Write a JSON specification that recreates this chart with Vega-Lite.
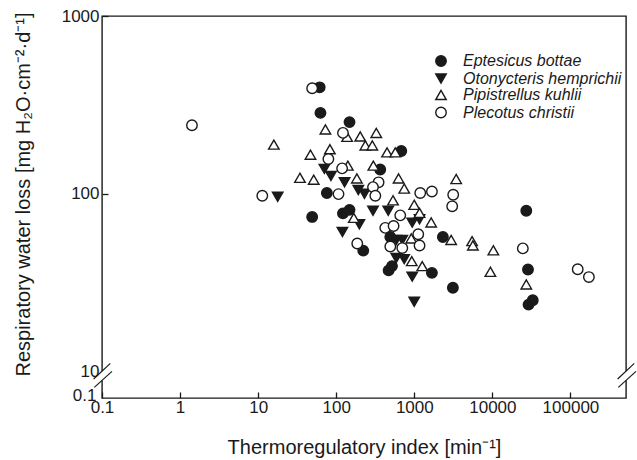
{
  "$schema": "https://vega.github.io/schema/vega-lite/v6.json",
  "width": 524,
  "height": 382,
  "autosize": {"type": "none"},
  "padding": {"left": 102, "top": 16, "right": 11, "bottom": 62},
  "background": "white",
  "config": {
    "font": "Liberation Sans",
    "view": {"stroke": "#1a1a1a", "strokeWidth": 1.4},
    "axis": {
      "grid": false,
      "domain": false,
      "tickColor": "#1a1a1a",
      "tickWidth": 1.3,
      "tickSize": -6,
      "labelColor": "#1a1a1a",
      "titleColor": "#1a1a1a",
      "labelFont": "Liberation Sans",
      "titleFont": "Liberation Sans",
      "labelFontSize": 17,
      "titleFontSize": 20,
      "titleFontWeight": "normal",
      "zindex": 0
    },
    "legend": {
      "title": null, "orient": "none", "legendX": 331, "legendY": 37,
      "labelFontStyle": "italic", "labelFontSize": 16, "labelColor": "#1a1a1a",
      "symbolSize": 110, "symbolStrokeWidth": 1.4,
      "labelOffset": 14, "rowPadding": 0.5, "padding": 0
    }
  },
  "layer": [
    {
      "data": {
        "values": [
          {"species": "Eptesicus bottae", "ti": 61.4, "rwl": 397},
          {"species": "Eptesicus bottae", "ti": 62.8, "rwl": 285},
          {"species": "Eptesicus bottae", "ti": 148, "rwl": 253},
          {"species": "Eptesicus bottae", "ti": 681, "rwl": 174},
          {"species": "Eptesicus bottae", "ti": 366, "rwl": 137},
          {"species": "Eptesicus bottae", "ti": 75.9, "rwl": 101},
          {"species": "Eptesicus bottae", "ti": 49.2, "rwl": 74.1},
          {"species": "Eptesicus bottae", "ti": 122, "rwl": 77.6},
          {"species": "Eptesicus bottae", "ti": 148, "rwl": 81.2},
          {"species": "Eptesicus bottae", "ti": 27200, "rwl": 80.2},
          {"species": "Eptesicus bottae", "ti": 222, "rwl": 47.9},
          {"species": "Eptesicus bottae", "ti": 493, "rwl": 57.1},
          {"species": "Eptesicus bottae", "ti": 2325, "rwl": 57.1},
          {"species": "Eptesicus bottae", "ti": 469, "rwl": 37.1},
          {"species": "Eptesicus bottae", "ti": 518, "rwl": 39.2},
          {"species": "Eptesicus bottae", "ti": 1682, "rwl": 35.9},
          {"species": "Eptesicus bottae", "ti": 3122, "rwl": 29.6},
          {"species": "Eptesicus bottae", "ti": 28600, "rwl": 37.5},
          {"species": "Eptesicus bottae", "ti": 29070, "rwl": 23.8},
          {"species": "Eptesicus bottae", "ti": 32910, "rwl": 25.2},
          {"species": "Otonycteris hemprichii", "ti": 17.8, "rwl": 96.2},
          {"species": "Otonycteris hemprichii", "ti": 70.6, "rwl": 138},
          {"species": "Otonycteris hemprichii", "ti": 85.5, "rwl": 126},
          {"species": "Otonycteris hemprichii", "ti": 128, "rwl": 116},
          {"species": "Otonycteris hemprichii", "ti": 192, "rwl": 105},
          {"species": "Otonycteris hemprichii", "ti": 230, "rwl": 100},
          {"species": "Otonycteris hemprichii", "ti": 198, "rwl": 67.3},
          {"species": "Otonycteris hemprichii", "ti": 120, "rwl": 61.0},
          {"species": "Otonycteris hemprichii", "ti": 296, "rwl": 80.2},
          {"species": "Otonycteris hemprichii", "ti": 464, "rwl": 80.2},
          {"species": "Otonycteris hemprichii", "ti": 941, "rwl": 68.8},
          {"species": "Otonycteris hemprichii", "ti": 1168, "rwl": 71.9},
          {"species": "Otonycteris hemprichii", "ti": 588, "rwl": 43.5},
          {"species": "Otonycteris hemprichii", "ti": 743, "rwl": 42.9},
          {"species": "Otonycteris hemprichii", "ti": 941, "rwl": 34.2},
          {"species": "Otonycteris hemprichii", "ti": 998, "rwl": 24.7},
          {"species": "Otonycteris hemprichii", "ti": 588, "rwl": 55.0},
          {"species": "Otonycteris hemprichii", "ti": 702, "rwl": 55.0},
          {"species": "Pipistrellus kuhlii", "ti": 15.9, "rwl": 189},
          {"species": "Pipistrellus kuhlii", "ti": 46.8, "rwl": 166},
          {"species": "Pipistrellus kuhlii", "ti": 72.7, "rwl": 230},
          {"species": "Pipistrellus kuhlii", "ti": 83.0, "rwl": 178},
          {"species": "Pipistrellus kuhlii", "ti": 138, "rwl": 209},
          {"species": "Pipistrellus kuhlii", "ti": 203, "rwl": 210},
          {"species": "Pipistrellus kuhlii", "ti": 236, "rwl": 187},
          {"species": "Pipistrellus kuhlii", "ti": 290, "rwl": 187},
          {"species": "Pipistrellus kuhlii", "ti": 326, "rwl": 220},
          {"species": "Pipistrellus kuhlii", "ti": 448, "rwl": 171},
          {"species": "Pipistrellus kuhlii", "ti": 571, "rwl": 171},
          {"species": "Pipistrellus kuhlii", "ti": 34.3, "rwl": 123},
          {"species": "Pipistrellus kuhlii", "ti": 51.5, "rwl": 120},
          {"species": "Pipistrellus kuhlii", "ti": 141, "rwl": 144},
          {"species": "Pipistrellus kuhlii", "ti": 184, "rwl": 122},
          {"species": "Pipistrellus kuhlii", "ti": 299, "rwl": 144},
          {"species": "Pipistrellus kuhlii", "ti": 168, "rwl": 73.2},
          {"species": "Pipistrellus kuhlii", "ti": 629, "rwl": 122},
          {"species": "Pipistrellus kuhlii", "ti": 743, "rwl": 107},
          {"species": "Pipistrellus kuhlii", "ti": 3439, "rwl": 121},
          {"species": "Pipistrellus kuhlii", "ti": 534, "rwl": 91.9},
          {"species": "Pipistrellus kuhlii", "ti": 998, "rwl": 86.7},
          {"species": "Pipistrellus kuhlii", "ti": 1168, "rwl": 78.1},
          {"species": "Pipistrellus kuhlii", "ti": 1646, "rwl": 69.0},
          {"species": "Pipistrellus kuhlii", "ti": 914, "rwl": 56.1},
          {"species": "Pipistrellus kuhlii", "ti": 2967, "rwl": 55.0},
          {"species": "Pipistrellus kuhlii", "ti": 5500, "rwl": 54.2},
          {"species": "Pipistrellus kuhlii", "ti": 5630, "rwl": 51.2},
          {"species": "Pipistrellus kuhlii", "ti": 10290, "rwl": 48.1},
          {"species": "Pipistrellus kuhlii", "ti": 928, "rwl": 41.8},
          {"species": "Pipistrellus kuhlii", "ti": 1264, "rwl": 39.2},
          {"species": "Pipistrellus kuhlii", "ti": 9430, "rwl": 36.4},
          {"species": "Pipistrellus kuhlii", "ti": 27200, "rwl": 30.9},
          {"species": "Plecotus christii", "ti": 1.42, "rwl": 243},
          {"species": "Plecotus christii", "ti": 11.3, "rwl": 97.5},
          {"species": "Plecotus christii", "ti": 49.2, "rwl": 392},
          {"species": "Plecotus christii", "ti": 122, "rwl": 220},
          {"species": "Plecotus christii", "ti": 79.4, "rwl": 157},
          {"species": "Plecotus christii", "ti": 119, "rwl": 139},
          {"species": "Plecotus christii", "ti": 107, "rwl": 99.6},
          {"species": "Plecotus christii", "ti": 186, "rwl": 52.5},
          {"species": "Plecotus christii", "ti": 349, "rwl": 116},
          {"species": "Plecotus christii", "ti": 296, "rwl": 109},
          {"species": "Plecotus christii", "ti": 317, "rwl": 97.5},
          {"species": "Plecotus christii", "ti": 1192, "rwl": 101},
          {"species": "Plecotus christii", "ti": 1682, "rwl": 103},
          {"species": "Plecotus christii", "ti": 3151, "rwl": 98.7},
          {"species": "Plecotus christii", "ti": 3058, "rwl": 85.0},
          {"species": "Plecotus christii", "ti": 661, "rwl": 75.6},
          {"species": "Plecotus christii", "ti": 425, "rwl": 64.3},
          {"species": "Plecotus christii", "ti": 543, "rwl": 65.9},
          {"species": "Plecotus christii", "ti": 1124, "rwl": 59.2},
          {"species": "Plecotus christii", "ti": 493, "rwl": 50.5},
          {"species": "Plecotus christii", "ti": 702, "rwl": 49.5},
          {"species": "Plecotus christii", "ti": 1168, "rwl": 51.2},
          {"species": "Plecotus christii", "ti": 24560, "rwl": 49.3},
          {"species": "Plecotus christii", "ti": 124000, "rwl": 37.6},
          {"species": "Plecotus christii", "ti": 172400, "rwl": 34.0}
        ]
      },
      "mark": {"type": "point", "strokeWidth": 1.4, "size": 110, "opacity": 1},
      "encoding": {
        "x": {
          "field": "ti",
          "type": "quantitative",
          "title": "Thermoregulatory index [min⁻¹]",
          "scale": {"type": "log", "domain": [0.1, 515000], "nice": false},
          "axis": {
            "values": [0.1, 1, 10, 100, 1000, 10000, 100000],
            "labelExpr": "datum.value < 1 ? '0.1' : format(datum.value, 'd')",
            "labelPadding": 7,
            "labelFlush": false,
            "labelOverlap": false,
            "titleY": 55,
            "titleBaseline": "alphabetic"
          }
        },
        "y": {
          "field": "rwl",
          "type": "quantitative",
          "title": "Respiratory water loss [mg H₂O·cm⁻²·d⁻¹]",
          "scale": {"type": "log", "domain": [7.1, 1000], "nice": false},
          "axis": {
            "values": [7.1, 10, 100, 1000],
            "labelExpr": "datum.value < 9 ? '0.1' : format(datum.value, 'd')",
            "labelPadding": {"condition": {"test": "datum.value < 9", "value": 12}, "value": 9},
            "labelOffset": {"condition": {"test": "datum.value < 9", "value": -3}, "value": 0},
            "tickOpacity": {"condition": {"test": "datum.value < 50", "value": 0}, "value": 1},
            "labelFlush": false,
            "labelOverlap": false,
            "titleX": -73,
            "titleY": 178,
            "titleAngle": 270,
            "titleAlign": "center",
            "titleBaseline": "alphabetic"
          }
        },
        "shape": {
          "field": "species",
          "type": "nominal",
          "scale": {
            "domain": ["Eptesicus bottae", "Otonycteris hemprichii", "Pipistrellus kuhlii", "Plecotus christii"],
            "range": ["circle", "triangle-down", "triangle-up", "circle"]
          }
        },
        "fill": {
          "field": "species",
          "type": "nominal",
          "scale": {
            "domain": ["Eptesicus bottae", "Otonycteris hemprichii", "Pipistrellus kuhlii", "Plecotus christii"],
            "range": ["#1a1a1a", "#1a1a1a", "white", "white"]
          }
        },
        "stroke": {
          "field": "species",
          "type": "nominal",
          "scale": {
            "domain": ["Eptesicus bottae", "Otonycteris hemprichii", "Pipistrellus kuhlii", "Plecotus christii"],
            "range": ["#1a1a1a", "#1a1a1a", "#1a1a1a", "#1a1a1a"]
          }
        }
      }
    },
    {
      "data": {
        "values": [
          {"bx": 0.1, "bx2": 0.1, "by": 8.92, "by2": 10.05},
          {"bx": 515000, "bx2": 515000, "by": 8.92, "by2": 10.05}
        ]
      },
      "mark": {"type": "rule", "color": "white", "strokeWidth": 4},
      "encoding": {
        "x": {"field": "bx", "type": "quantitative", "title": "Thermoregulatory index [min⁻¹]"},
        "x2": {"field": "bx2"},
        "y": {"field": "by", "type": "quantitative", "title": "Respiratory water loss [mg H₂O·cm⁻²·d⁻¹]"},
        "y2": {"field": "by2"}
      }
    },
    {
      "data": {
        "values": [
          {"bx": 0.0781, "bx2": 0.1278, "by": 9.08, "by2": 11.12},
          {"bx": 0.0797, "bx2": 0.1343, "by": 8.15, "by2": 10.03},
          {"bx": 402200, "bx2": 658200, "by": 9.08, "by2": 11.12},
          {"bx": 410500, "bx2": 691600, "by": 8.15, "by2": 10.03}
        ]
      },
      "mark": {"type": "rule", "color": "#1a1a1a", "strokeWidth": 1.2},
      "encoding": {
        "x": {"field": "bx", "type": "quantitative", "title": "Thermoregulatory index [min⁻¹]"},
        "x2": {"field": "bx2"},
        "y": {"field": "by", "type": "quantitative", "title": "Respiratory water loss [mg H₂O·cm⁻²·d⁻¹]"},
        "y2": {"field": "by2"}
      }
    }
  ]
}
